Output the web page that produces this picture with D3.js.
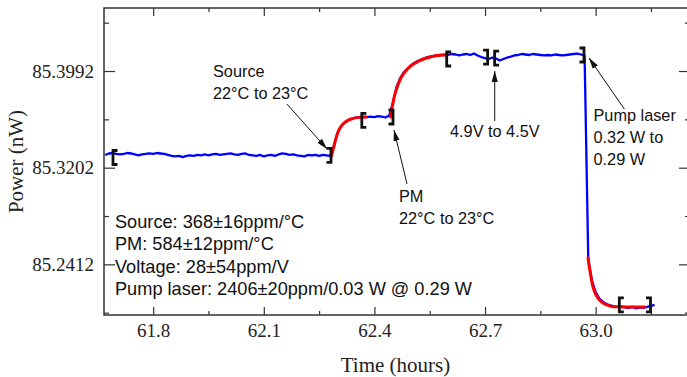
<!DOCTYPE html>
<meta charset="utf-8">
<title>Power drift</title>
<body>
<script src="https://cdn.jsdelivr.net/npm/d3@7"></script>
<style>
  html, body {
    width: 100%;
    height: 100%;
    margin: 0;
    overflow: hidden;
    background: #fff;
  }
  .tick line { stroke: #333; stroke-width: 1.2; }
  .domain { display: none; }
</style>
<script>
  // measured trace: one sample every 0.01 h starting at t0
  var t0 = 61.67, dt = 0.01;
  var power = [
    85.3306, 85.3318, 85.3322, 85.3314, 85.3310, 85.3314, 85.3322, 85.3318, 85.3310, 85.3302,
    85.3310, 85.3314, 85.3318, 85.3314, 85.3322, 85.3318, 85.3314, 85.3306, 85.3298, 85.3294,
    85.3298, 85.3289, 85.3298, 85.3302, 85.3298, 85.3306, 85.3302, 85.3310, 85.3302, 85.3310,
    85.3314, 85.3306, 85.3310, 85.3314, 85.3318, 85.3310, 85.3306, 85.3314, 85.3318, 85.3306,
    85.3302, 85.3298, 85.3306, 85.3294, 85.3302, 85.3306, 85.3298, 85.3310, 85.3318, 85.3314,
    85.3306, 85.3310, 85.3302, 85.3298, 85.3294, 85.3306, 85.3302, 85.3306, 85.3298, 85.3306,
    85.3302, 85.3298,
    85.3379, 85.3485, 85.3543, 85.3571, 85.3592, 85.3604, 85.3612, 85.3616, 85.3618,
    85.3616, 85.3620, 85.3616, 85.3624, 85.3620, 85.3612, 85.3628,
    85.3730, 85.3861, 85.3935, 85.3984, 85.4012, 85.4041, 85.4061, 85.4078, 85.4090, 85.4102,
    85.4110, 85.4114, 85.4119, 85.4123, 85.4123,
    85.4123, 85.4131, 85.4127, 85.4119, 85.4127, 85.4131, 85.4123, 85.4135, 85.4119, 85.4106,
    85.4098, 85.4090, 85.4102, 85.4094, 85.4078, 85.4090, 85.4102, 85.4110, 85.4119, 85.4123,
    85.4131, 85.4127, 85.4123, 85.4131, 85.4127, 85.4123, 85.4119, 85.4123, 85.4119, 85.4127,
    85.4123, 85.4119, 85.4123, 85.4127, 85.4131, 85.4135, 85.4127, 85.4119,
    85.2456, 85.2276, 85.2186, 85.2133, 85.2105, 85.2088, 85.2076, 85.2068, 85.2064, 85.2068,
    85.2060, 85.2056, 85.2064, 85.2052, 85.2060, 85.2056, 85.2064, 85.2072, 85.2080
  ];

  // exponential fits (red)
  var fit1Time = [62.2836, 62.2890, 62.2944, 62.3012, 62.3094, 62.3175, 62.3283, 62.3392, 62.3527, 62.3663, 62.3771];
  var fit1Power = [85.3297, 85.3363, 85.3428, 85.3494, 85.3538, 85.3567, 85.3589, 85.3602, 85.3611, 85.3615, 85.3617];
  var fit2Time = [62.4436, 62.4477, 62.4531, 62.4599, 62.4680, 62.4775, 62.4884, 62.5020, 62.5182, 62.5372, 62.5562, 62.5779, 62.5969];
  var fit2Power = [85.3616, 85.3690, 85.3771, 85.3845, 85.3910, 85.3963, 85.4004, 85.4041, 85.4070, 85.4094, 85.4110, 85.4120, 85.4124];
  var fit3Time = [62.9793, 62.9833, 62.9874, 62.9928, 62.9996, 63.0077, 63.0172, 63.0281, 63.0416, 63.0579, 63.0796, 63.1067, 63.1338];
  var fit3Power = [85.2464, 85.2382, 85.2309, 85.2227, 85.2170, 85.2129, 85.2101, 85.2082, 85.2070, 85.2065, 85.2064, 85.2063, 85.2063];

  // averaging windows
  var bracketTime = [61.6910, 62.2822, 62.3658, 62.4504, 62.5960, 62.7070, 62.7260, 62.9684, 63.0642, 63.1488];
  var bracketPower = [85.3285, 85.3302, 85.3588, 85.3616, 85.4090, 85.4106, 85.4098, 85.4123, 85.2080, 85.2080];
  var bracketSide = ["[", "]", "[", "]", "[", "]", "[", "]", "[", "]"];

  var xMajor = [61.8, 62.1, 62.4, 62.7, 63.0];
  var xMinor = [61.95, 62.25, 62.55, 62.85, 63.15];
  var yMajor = [85.2412, 85.3202, 85.3992];
  var yMinor = [85.2017, 85.2807, 85.3597, 85.4387];

  var stats = [
    "Source: 368\u00b116ppm/\u00b0C",
    "PM: 584\u00b112ppm/\u00b0C",
    "Voltage: 28\u00b154ppm/V",
    "Pump laser: 2406\u00b120ppm/0.03 W @ 0.29 W"
  ];

  // labels with arrows: text anchor and arrow tail -> head, all in data units
  var notes = [
    {t: 61.9622, v: 85.3943, lines: ["Source", "22\u00b0C to 23\u00b0C"], arrow: [62.1629, 85.3722, 62.2714, 85.3355]},
    {t: 62.4667, v: 85.2922, lines: ["PM", "22\u00b0C to 23\u00b0C"], arrow: [62.4884, 85.3069, 62.4531, 85.3510]},
    {t: 62.6050, v: 85.3453, lines: ["4.9V to 4.5V"], arrow: [62.7263, 85.3583, 62.7263, 85.3992]},
    {t: 62.9942, v: 85.3583, lines: ["Pump laser", "0.32 W to", "0.29 W"], arrow: [63.0780, 85.3681, 62.9820, 85.4098]}
  ];

  var width = 687, height = 377,
    m = {left: 104, right: 690, top: 8, bottom: 315};

  var x = d3.scaleLinear().domain([61.6666, 63.2559]).range([m.left, m.right]);
  var y = d3.scaleLinear().domain([85.1998, 85.4507]).range([m.bottom, m.top]);

  var svg = d3.select("body").append("svg")
    .attr("width", width)
    .attr("height", height);

  var serif = "'Liberation Serif', 'Times New Roman', serif",
    sans = "'Liberation Sans', Arial, sans-serif";

  // axes, ticks pointing inward
  function ticks(gen, vals, size, fmt) {
    return gen.tickValues(vals).tickSize(-size).tickSizeOuter(0)
      .tickFormat(fmt || function() { return ""; });
  }

  svg.append("g").attr("transform", "translate(0," + m.bottom + ")")
    .call(ticks(d3.axisBottom(x), xMajor, 8, d3.format(".1f")).tickPadding(9));
  svg.append("g").attr("transform", "translate(0," + m.bottom + ")")
    .call(ticks(d3.axisBottom(x), xMinor, 4));
  svg.append("g").attr("transform", "translate(0," + m.top + ")")
    .call(ticks(d3.axisTop(x), xMajor, 8));
  svg.append("g").attr("transform", "translate(0," + m.top + ")")
    .call(ticks(d3.axisTop(x), xMinor, 4));
  svg.append("g").attr("transform", "translate(" + m.left + ",0)")
    .call(ticks(d3.axisLeft(y), yMajor, 11, d3.format(".4f")).tickPadding(10));
  svg.append("g").attr("transform", "translate(" + m.left + ",0)")
    .call(ticks(d3.axisLeft(y), yMinor, 5));
  svg.append("g").attr("transform", "translate(" + m.right + ",0)")
    .call(ticks(d3.axisRight(y), yMajor, 11));
  svg.append("g").attr("transform", "translate(" + m.right + ",0)")
    .call(ticks(d3.axisRight(y), yMinor, 5));

  svg.selectAll(".tick text")
    .style("font-family", serif)
    .style("font-size", "19px")
    .attr("fill", "#222");

  svg.append("rect")
    .attr("x", m.left).attr("y", m.top)
    .attr("width", m.right - m.left).attr("height", m.bottom - m.top)
    .attr("fill", "none").attr("stroke", "#333").attr("stroke-width", 1.5);

  svg.append("text")
    .attr("x", (m.left + 687) / 2).attr("y", 372)
    .attr("text-anchor", "middle")
    .style("font-family", serif).style("font-size", "21px").attr("fill", "#222")
    .text("Time (hours)");

  svg.append("text")
    .attr("transform", "translate(23," + (m.top + m.bottom) / 2 + ") rotate(-90)")
    .attr("text-anchor", "middle")
    .style("font-family", serif).style("font-size", "21px").attr("fill", "#222")
    .text("Power (nW)");

  // data
  var line = d3.line().x(function(d) { return x(d[0]); }).y(function(d) { return y(d[1]); });
  var trace = power.map(function(p, i) { return [t0 + i * dt, p]; });

  svg.append("path").datum(trace)
    .attr("d", line).attr("fill", "none")
    .attr("stroke", "#0000ff").attr("stroke-width", 2.3).attr("stroke-linejoin", "round");

  [[fit1Time, fit1Power], [fit2Time, fit2Power], [fit3Time, fit3Power]].forEach(function(f) {
    svg.append("path").datum(d3.zip(f[0], f[1]))
      .attr("d", line.curve(d3.curveMonotoneX)).attr("fill", "none")
      .attr("stroke", "#ff0000").attr("stroke-width", 3).attr("stroke-linecap", "round");
    line.curve(d3.curveLinear);
  });

  svg.selectAll(".bracket")
    .data(d3.range(bracketTime.length))
    .enter().append("path")
    .attr("class", "bracket")
    .attr("d", function(i) {
      var cx = x(bracketTime[i]), cy = y(bracketPower[i]), h = 7,
        w = bracketSide[i] == "[" ? 4.5 : -4.5;
      return "M" + (cx + w) + "," + (cy - h) + "H" + cx + "V" + (cy + h) + "H" + (cx + w);
    })
    .attr("fill", "none").attr("stroke", "#111").attr("stroke-width", 2.8);

  // annotations
  svg.append("defs").append("marker")
    .attr("id", "head")
    .attr("viewBox", "0 0 10 10")
    .attr("refX", 10).attr("refY", 5)
    .attr("markerUnits", "userSpaceOnUse")
    .attr("markerWidth", 11).attr("markerHeight", 11)
    .attr("orient", "auto")
    .append("path").attr("d", "M0,2.2L10,5L0,7.8Z").attr("fill", "#111");

  notes.forEach(function(n) {
    var a = n.arrow;
    svg.append("line")
      .attr("x1", x(a[0])).attr("y1", y(a[1]))
      .attr("x2", x(a[2])).attr("y2", y(a[3]))
      .attr("stroke", "#111").attr("stroke-width", 1)
      .attr("marker-end", "url(#head)");
    var t = svg.append("text")
      .attr("x", x(n.t)).attr("y", y(n.v))
      .style("font-family", sans).style("font-size", "16.3px").attr("fill", "#111");
    n.lines.forEach(function(s, i) {
      t.append("tspan").attr("x", x(n.t)).attr("dy", i ? 22 : 0).text(s);
    });
  });

  var st = svg.append("text")
    .attr("x", x(61.6964)).attr("y", y(85.2709))
    .style("font-family", sans).style("font-size", "18.2px").attr("fill", "#111");
  stats.forEach(function(s, i) {
    st.append("tspan").attr("x", x(61.6964)).attr("dy", i ? 22.3 : 0).text(s);
  });
</script>
